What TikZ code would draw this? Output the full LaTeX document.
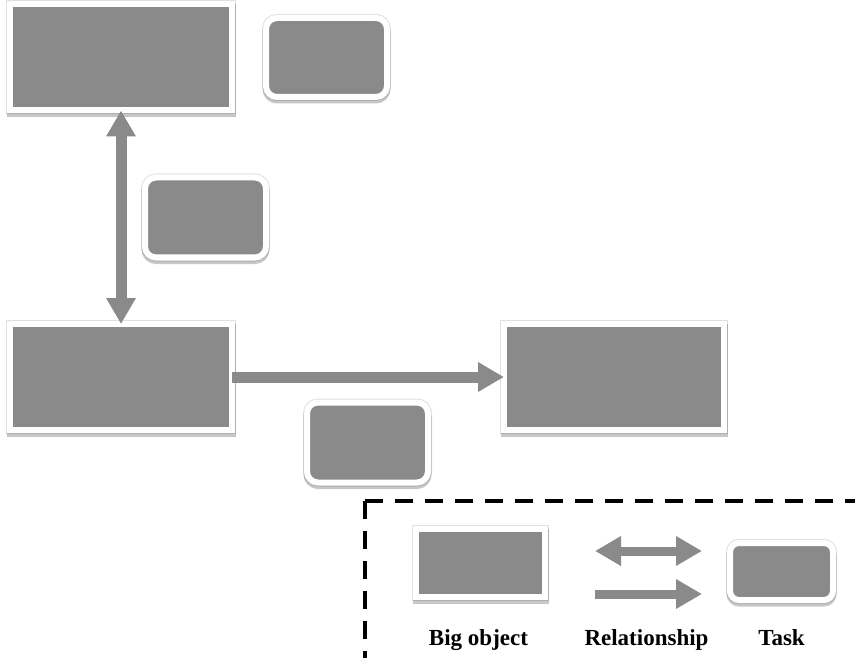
\documentclass[tikz,border=0pt]{standalone}
\usepackage{fontspec}
\setmainfont{Liberation Serif}
\usepackage{tikz}
\usetikzlibrary{positioning}
\usetikzlibrary{shadows}
\usetikzlibrary{arrows.meta}
\definecolor{boxgray}{HTML}{8A8A8A}
\tikzset{every picture/.style={x=1pt,y=-1pt},
halo/.style={drop shadow={shadow xshift=0pt,shadow yshift=0pt,opacity=.12,draw=black,line width=8pt},
  drop shadow={shadow xshift=0pt,shadow yshift=-3pt,opacity=.22,draw=black,line width=7pt}},
bigbox/.style={rectangle,fill=boxgray,draw=white,line width=6pt,outer sep=0pt,minimum width=222pt,minimum height=106pt,halo},
taskbox/.style={rectangle,rounded corners=11pt,fill=boxgray,draw=white,line width=6pt,outer sep=0pt,minimum width=121pt,minimum height=80pt,halo},
relarrow/.style={draw=boxgray,line width=11pt,-{Triangle[length=26pt,width=28pt]}},
reltwo/.style={draw=boxgray,line width=11pt,{Triangle[length=26pt,width=28pt]}-{Triangle[length=26pt,width=28pt]}},
legendtext/.style={anchor=base,font=\fontsize{23}{27}\selectfont\bfseries}}

\begin{document}
\begin{tikzpicture}
\useasboundingbox (0,0) rectangle (855,658);
% big objects
\node (obj1) at (121,57.5) [bigbox] {};
\node (obj2) at (121,377) [bigbox] {};
\node (obj3) at (614,377) [bigbox,minimum width=220pt] {};
% tasks
\node (task1) at (326.5,57.5) [taskbox,minimum height=79pt] {};
\node (task2) at (205.5,217.5) [taskbox] {};
\node (task3) at (367.5,442.5) [taskbox] {};
% relationships
\draw[reltwo] (obj2.north) -- (obj1.south);
\draw[relarrow] (obj2.east) -- (obj3.west);
% legend
\coordinate (corner) at (365,501);
\coordinate (rightend) at (870,501);
\coordinate (bottomend) at (365,670);
\draw[line width=4pt,dash pattern=on 18pt off 12pt] (corner) -- (rightend);
\draw[line width=4pt,dash pattern=on 18pt off 12pt] (corner) -- (bottomend);
\node (lobj) at (480.5,563) [bigbox,minimum width=129pt,minimum height=68pt] {};
\node (ltask) at (781.5,571.5) [taskbox,rounded corners=9pt,minimum width=103pt,minimum height=57pt] {};
\coordinate (rel1a) at (595,551);
\coordinate (rel1b) at (702,551);
\coordinate (rel2a) at (595,594);
\coordinate (rel2b) at (702,594);
\draw[reltwo,line width=9pt] (rel1a) -- (rel1b);
\draw[relarrow,line width=9pt] (rel2a) -- (rel2b);
\node (tobj) at (478.5,645) [legendtext] {Big object};
\node (trel) at (646.5,645) [legendtext] {Relationship};
\node (ttask) at (781.5,645) [legendtext] {Task};
\end{tikzpicture}
\end{document}
